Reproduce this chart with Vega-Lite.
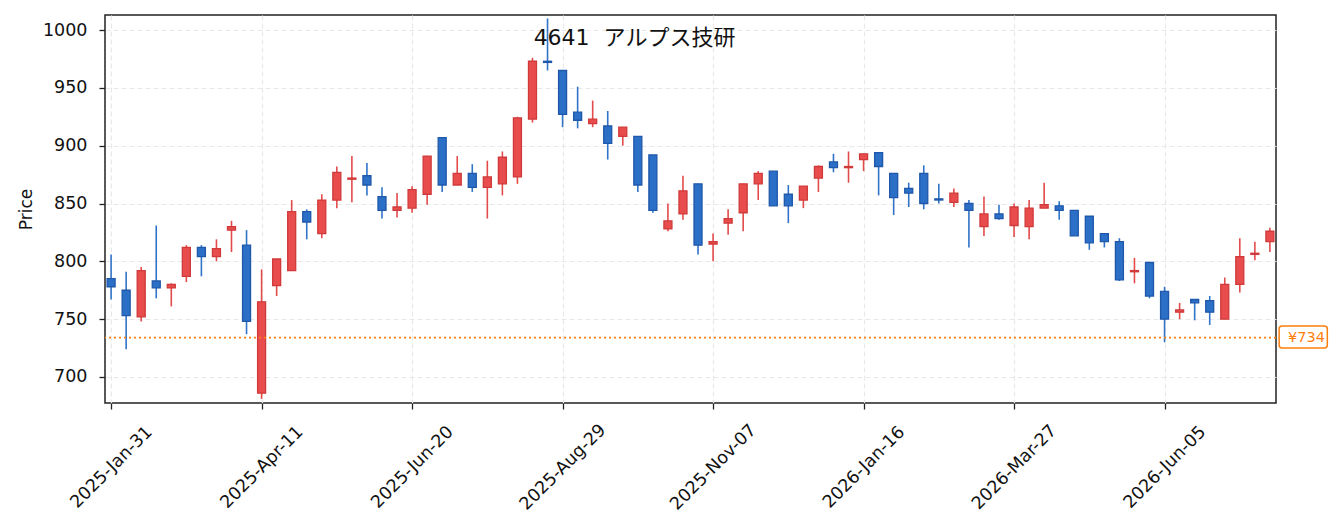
{
  "$schema": "https://vega.github.io/schema/vega-lite/v6.json",
  "width": 1171,
  "height": 388,
  "autosize": "none",
  "padding": {"left": 105, "top": 15, "right": 65, "bottom": 129},
  "background": "white",
  "title": {
    "text": "4641\u00a0 アルプス技研",
    "anchor": "middle",
    "dx": -56,
    "offset": -45,
    "baseline": "middle",
    "fontSize": 22,
    "fontWeight": "normal",
    "font": "DejaVu Sans, Noto Sans CJK JP",
    "color": "#111111"
  },
  "config": {
    "font": "DejaVu Sans",
    "view": {"stroke": "#222222", "strokeWidth": 1.5},
    "axis": {
      "domain": false,
      "grid": true,
      "gridColor": "#e8e8e8",
      "gridDash": [5, 3],
      "gridWidth": 1.2,
      "tickColor": "#222222",
      "tickSize": 6,
      "tickWidth": 1.3,
      "labelColor": "#111111",
      "labelFont": "DejaVu Sans",
      "labelFontSize": 17.5,
      "titleFont": "DejaVu Sans",
      "titleFontSize": 17,
      "titleFontWeight": "normal",
      "titleColor": "#111111"
    }
  },
  "data": {
    "values": [
      {"d": "2025-01-31", "o": 785, "h": 806, "l": 767, "c": 778},
      {"d": "2025-02-07", "o": 775, "h": 791, "l": 724, "c": 753},
      {"d": "2025-02-14", "o": 752, "h": 795, "l": 748, "c": 792},
      {"d": "2025-02-21", "o": 783, "h": 831, "l": 768, "c": 777},
      {"d": "2025-02-28", "o": 777, "h": 781, "l": 761, "c": 780},
      {"d": "2025-03-07", "o": 787, "h": 814, "l": 782, "c": 812},
      {"d": "2025-03-14", "o": 812, "h": 814, "l": 787, "c": 804},
      {"d": "2025-03-21", "o": 804, "h": 819, "l": 800, "c": 811},
      {"d": "2025-03-28", "o": 827, "h": 835, "l": 808, "c": 830},
      {"d": "2025-04-04", "o": 814, "h": 827, "l": 737, "c": 748},
      {"d": "2025-04-11", "o": 686, "h": 793, "l": 681, "c": 765},
      {"d": "2025-04-18", "o": 779, "h": 802, "l": 770, "c": 802},
      {"d": "2025-04-25", "o": 792, "h": 853, "l": 792, "c": 843},
      {"d": "2025-05-02", "o": 843, "h": 845, "l": 819, "c": 834},
      {"d": "2025-05-09", "o": 824, "h": 858, "l": 820, "c": 853},
      {"d": "2025-05-16", "o": 853, "h": 882, "l": 846, "c": 877},
      {"d": "2025-05-23", "o": 871, "h": 891, "l": 851, "c": 872},
      {"d": "2025-05-30", "o": 874, "h": 885, "l": 857, "c": 866},
      {"d": "2025-06-06", "o": 856, "h": 864, "l": 837, "c": 844},
      {"d": "2025-06-13", "o": 844, "h": 859, "l": 838, "c": 847},
      {"d": "2025-06-20", "o": 846, "h": 865, "l": 842, "c": 862},
      {"d": "2025-06-27", "o": 858, "h": 891, "l": 849, "c": 891},
      {"d": "2025-07-04", "o": 907, "h": 907, "l": 860, "c": 866},
      {"d": "2025-07-11", "o": 866, "h": 891, "l": 866, "c": 876},
      {"d": "2025-07-18", "o": 876, "h": 884, "l": 860, "c": 864},
      {"d": "2025-07-25", "o": 864, "h": 887, "l": 837, "c": 873},
      {"d": "2025-08-01", "o": 867, "h": 895, "l": 857, "c": 890},
      {"d": "2025-08-08", "o": 873, "h": 925, "l": 867, "c": 924},
      {"d": "2025-08-15", "o": 923, "h": 976, "l": 920, "c": 973},
      {"d": "2025-08-22", "o": 973, "h": 1010, "l": 965, "c": 972},
      {"d": "2025-08-29", "o": 965, "h": 965, "l": 916, "c": 927},
      {"d": "2025-09-05", "o": 929, "h": 951, "l": 915, "c": 922},
      {"d": "2025-09-12", "o": 919, "h": 939, "l": 916, "c": 923},
      {"d": "2025-09-19", "o": 917, "h": 930, "l": 888, "c": 902},
      {"d": "2025-09-26", "o": 908, "h": 916, "l": 900, "c": 916},
      {"d": "2025-10-03", "o": 908, "h": 908, "l": 860, "c": 866},
      {"d": "2025-10-10", "o": 892, "h": 892, "l": 842, "c": 844},
      {"d": "2025-10-17", "o": 828, "h": 850, "l": 826, "c": 835},
      {"d": "2025-10-24", "o": 841, "h": 874, "l": 836, "c": 861},
      {"d": "2025-10-31", "o": 867, "h": 867, "l": 806, "c": 814},
      {"d": "2025-11-07", "o": 815, "h": 824, "l": 800, "c": 817},
      {"d": "2025-11-14", "o": 833, "h": 845, "l": 823, "c": 837},
      {"d": "2025-11-21", "o": 842, "h": 867, "l": 826, "c": 867},
      {"d": "2025-11-28", "o": 867, "h": 878, "l": 853, "c": 876},
      {"d": "2025-12-05", "o": 878, "h": 878, "l": 848, "c": 848},
      {"d": "2025-12-12", "o": 858, "h": 866, "l": 833, "c": 848},
      {"d": "2025-12-19", "o": 853, "h": 865, "l": 846, "c": 865},
      {"d": "2025-12-26", "o": 872, "h": 883, "l": 860, "c": 882},
      {"d": "2026-01-02", "o": 886, "h": 893, "l": 877, "c": 881},
      {"d": "2026-01-09", "o": 881, "h": 895, "l": 868, "c": 882},
      {"d": "2026-01-16", "o": 888, "h": 893, "l": 878, "c": 893},
      {"d": "2026-01-23", "o": 894, "h": 894, "l": 857, "c": 882},
      {"d": "2026-01-30", "o": 876, "h": 876, "l": 840, "c": 855},
      {"d": "2026-02-06", "o": 863, "h": 868, "l": 847, "c": 859},
      {"d": "2026-02-13", "o": 876, "h": 883, "l": 845, "c": 850},
      {"d": "2026-02-20", "o": 854, "h": 867, "l": 850, "c": 853},
      {"d": "2026-02-27", "o": 851, "h": 863, "l": 847, "c": 859},
      {"d": "2026-03-06", "o": 850, "h": 853, "l": 812, "c": 844},
      {"d": "2026-03-13", "o": 830, "h": 856, "l": 822, "c": 841},
      {"d": "2026-03-20", "o": 841, "h": 849, "l": 836, "c": 837},
      {"d": "2026-03-27", "o": 831, "h": 850, "l": 821, "c": 847},
      {"d": "2026-04-03", "o": 830, "h": 853, "l": 819, "c": 846},
      {"d": "2026-04-10", "o": 846, "h": 868, "l": 846, "c": 849},
      {"d": "2026-04-17", "o": 848, "h": 852, "l": 836, "c": 844},
      {"d": "2026-04-24", "o": 844, "h": 844, "l": 822, "c": 822},
      {"d": "2026-05-01", "o": 839, "h": 839, "l": 810, "c": 816},
      {"d": "2026-05-08", "o": 824, "h": 824, "l": 812, "c": 817},
      {"d": "2026-05-15", "o": 817, "h": 820, "l": 783, "c": 784},
      {"d": "2026-05-22", "o": 791, "h": 803, "l": 781, "c": 792},
      {"d": "2026-05-29", "o": 799, "h": 799, "l": 768, "c": 770},
      {"d": "2026-06-05", "o": 774, "h": 778, "l": 730, "c": 750},
      {"d": "2026-06-12", "o": 756, "h": 764, "l": 750, "c": 758},
      {"d": "2026-06-19", "o": 767, "h": 767, "l": 749, "c": 764},
      {"d": "2026-06-26", "o": 766, "h": 770, "l": 745, "c": 756},
      {"d": "2026-07-03", "o": 750, "h": 786, "l": 750, "c": 780},
      {"d": "2026-07-10", "o": 780, "h": 820, "l": 773, "c": 804},
      {"d": "2026-07-17", "o": 806, "h": 817, "l": 801, "c": 807},
      {"d": "2026-07-24", "o": 817, "h": 829, "l": 808, "c": 826}
    ]
  },
  "layer": [
    {
      "mark": {"type": "rule", "strokeWidth": 1.6},
      "encoding": {
        "x": {
          "field": "d",
          "type": "temporal",
          "scale": {
            "type": "utc",
            "nice": false,
            "padding": 0,
            "domain": [
              {"year": 2025, "month": 1, "date": 28, "hours": 4, "utc": true},
              {"year": 2026, "month": 7, "date": 26, "hours": 20, "utc": true}
            ]
          },
          "axis": {
            "title": null,
            "values": [
              {"year": 2025, "month": 1, "date": 31, "utc": true},
              {"year": 2025, "month": 4, "date": 11, "utc": true},
              {"year": 2025, "month": 6, "date": 20, "utc": true},
              {"year": 2025, "month": 8, "date": 29, "utc": true},
              {"year": 2025, "month": 11, "date": 7, "utc": true},
              {"year": 2026, "month": 1, "date": 16, "utc": true},
              {"year": 2026, "month": 3, "date": 27, "utc": true},
              {"year": 2026, "month": 6, "date": 5, "utc": true}
            ],
            "labelExpr": "utcFormat(datum.value, '%Y-%b-%d')",
            "labelAngle": -45,
            "labelAlign": "center",
            "labelBaseline": "middle",
            "labelPadding": 58
          }
        },
        "y": {
          "field": "l",
          "type": "quantitative",
          "scale": {"domain": [677.5, 1013], "nice": false, "zero": false, "padding": 0},
          "axis": {
            "title": "Price",
            "values": [700, 750, 800, 850, 900, 950, 1000],
            "format": "d",
            "labelPadding": 12,
            "titlePadding": 7
          }
        },
        "y2": {"field": "h"},
        "color": {
          "condition": {"test": "datum.c >= datum.o", "value": "#e34b4b"},
          "value": "#2f74c8"
        }
      }
    },
    {
      "mark": {"type": "bar", "width": 8, "strokeWidth": 1.3},
      "encoding": {
        "x": {"field": "d", "type": "temporal"},
        "y": {"field": "o", "type": "quantitative"},
        "y2": {"field": "c"},
        "fill": {
          "condition": {"test": "datum.c >= datum.o", "value": "#e84c4c"},
          "value": "#2b6fc6"
        },
        "stroke": {
          "condition": {"test": "datum.c >= datum.o", "value": "#d03a3a"},
          "value": "#1f58aa"
        }
      }
    },
    {
      "data": {"values": [{"level": 734}]},
      "mark": {"type": "rule", "color": "#ff7f0e", "strokeDash": [2, 3], "strokeWidth": 1.6},
      "encoding": {
        "y": {"field": "level", "type": "quantitative"}
      }
    },
    {
      "data": {"values": [{"level": 734}]},
      "mark": {"type": "rect", "fill": "white", "stroke": "#ff7f0e", "strokeWidth": 1.5, "cornerRadius": 3, "clip": false},
      "encoding": {
        "x": {"datum": 1785222000000, "type": "temporal"},
        "x2": {"datum": 1787158800000},
        "y": {"datum": 744, "type": "quantitative"},
        "y2": {"datum": 725}
      }
    },
    {
      "data": {"values": [{"level": 734}]},
      "mark": {"type": "text", "color": "#ff7f0e", "fontSize": 14.5, "align": "center", "baseline": "middle", "clip": false},
      "encoding": {
        "x": {"datum": 1786323600000, "type": "temporal"},
        "y": {"field": "level", "type": "quantitative"},
        "text": {"value": "¥734"}
      }
    }
  ]
}
